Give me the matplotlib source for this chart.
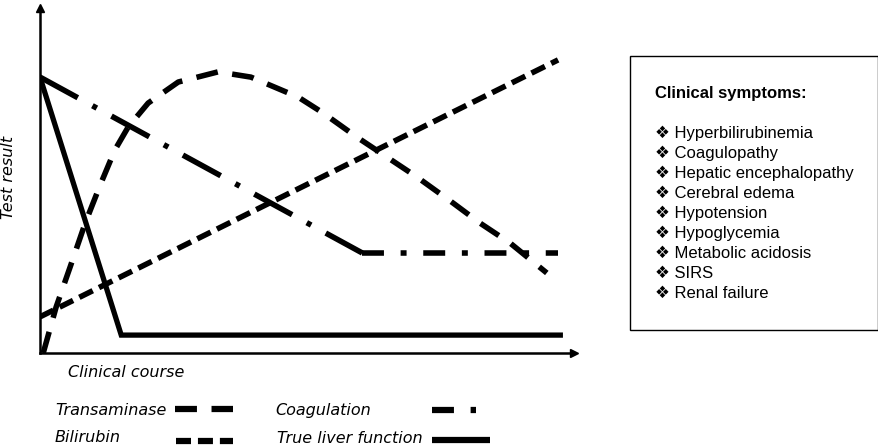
import matplotlib
matplotlib.use('Agg')
import matplotlib.pyplot as plt
from matplotlib.lines import Line2D
from matplotlib.patches import Rectangle

plt.rcParams['lines.scale_dashes'] = False

# data (arbitrary units, clinical course 0-100, test result 0-100)
course_trans = [0.6, 3.0, 5.6, 8.4, 11.2, 13.9, 16.4, 20.1, 25.7, 33.1, 39.2, 48.0, 52.6, 58.9, 70.1, 76.8, 81.8, 87.4, 94.2]
transaminase = [0, 13.1, 24.5, 37.0, 47.9, 57.8, 64.4, 71.2, 77.2, 80.1, 78.6, 72.9, 68.4, 61.5, 50.1, 42.7, 37.0, 31.3, 22.8]

course_bili = [0, 96.3]
bilirubin = [10.3, 83.5]

course_coag = [0, 59.9, 96.3]
coagulation = [78.6, 28.5, 28.5]

course_liver = [0, 15.1, 97.2]
liver_function = [78.6, 5.1, 5.1]

symptoms = ['Hyperbilirubinemia', 'Coagulopathy', 'Hepatic encephalopathy', 'Cerebral edema',
            'Hypotension', 'Hypoglycemia', 'Metabolic acidosis', 'SIRS', 'Renal failure']

# line styles
trans_dash = (0, (15.8, 10.5))
bili_dash = (0, (10.8, 5.0))
coag_dash_diag = (0, (31.0, 12.0, 3.6, 12.0))
coag_dash_flat = (0, (15.8, 12.0, 4.3, 12.0))

W, H = 879, 447
def fx(px):
    return px / W
def fy(py):
    return 1 - py / H

fig = plt.figure(figsize=(W / 100, H / 100), dpi=100)
ax = fig.add_axes([fx(40), fy(353), 534 / W, 345 / H])
ax.set_xlim(0, 534 / 5.38)
ax.set_ylim(0, 345 / 3.51)

lw = 4.0
ax.plot(course_trans, transaminase, color='k', lw=lw, linestyle=trans_dash, dash_capstyle='butt')
ax.plot(course_bili, bilirubin, color='k', lw=lw, linestyle=bili_dash, dash_capstyle='butt')
ax.plot(course_coag[:2], coagulation[:2], color='k', lw=lw, linestyle=coag_dash_diag, dash_capstyle='butt')
ax.plot(course_coag[1:], coagulation[1:], color='k', lw=lw, linestyle=coag_dash_flat, dash_capstyle='butt')
ax.plot(course_liver, liver_function, color='k', lw=3.8, solid_capstyle='butt', solid_joinstyle='miter')

for s in ['top', 'right']:
    ax.spines[s].set_visible(False)
for s in ['left', 'bottom']:
    ax.spines[s].set_linewidth(1.8)
    ax.spines[s].set_zorder(3)
ax.set_xticks([])
ax.set_yticks([])
ax.patch.set_alpha(0)
# arrow heads
ax.plot(1, 0, '>', color='k', ms=6, transform=ax.transAxes, clip_on=False)
ax.plot(0, 1, '^', color='k', ms=6, transform=ax.transAxes, clip_on=False)

lab = dict(family='DejaVu Sans', style='italic', fontsize=11.5)
fig.text(fx(68), fy(377), 'Clinical course', ha='left', va='baseline', **lab)
fig.text(fx(9), fy(177), 'Test result', ha='center', va='center', rotation=90, **lab)

# key below the chart
keys = [
    ('Transaminase', 55, 415, 175, 233, 409, trans_dash),
    ('Bilirubin', 55, 442, 176, 233, 441, bili_dash),
    ('Coagulation', 275, 415, 432, 476, 410, coag_dash_flat),
    ('True liver function', 277, 443, 432, 490, 440, '-'),
]
for name, tx, ty, x0, x1, ly, ls in keys:
    fig.text(fx(tx), fy(ty), name, ha='left', va='baseline', **lab)
    fig.add_artist(Line2D([fx(x0), fx(x1)], [fy(ly), fy(ly)], color='k', lw=4.5,
                          linestyle=ls, dash_capstyle='butt', solid_capstyle='butt',
                          transform=fig.transFigure))

# symptoms box
fig.add_artist(Rectangle((fx(630), fy(330)), (878 - 630) / W, (330 - 56) / H, fill=False,
                         lw=1.0, edgecolor='k', transform=fig.transFigure))
box_font = ['Liberation Sans', 'DejaVu Sans']
fig.text(fx(655), fy(98), 'Clinical symptoms:', family=box_font, weight='bold', fontsize=12,
         ha='left', va='baseline')
for i, s in enumerate(symptoms):
    fig.text(fx(655), fy(138 + 20 * i), '\u2756 ' + s, family=box_font, fontsize=12,
             ha='left', va='baseline')

fig.savefig('out.png', dpi=100)
